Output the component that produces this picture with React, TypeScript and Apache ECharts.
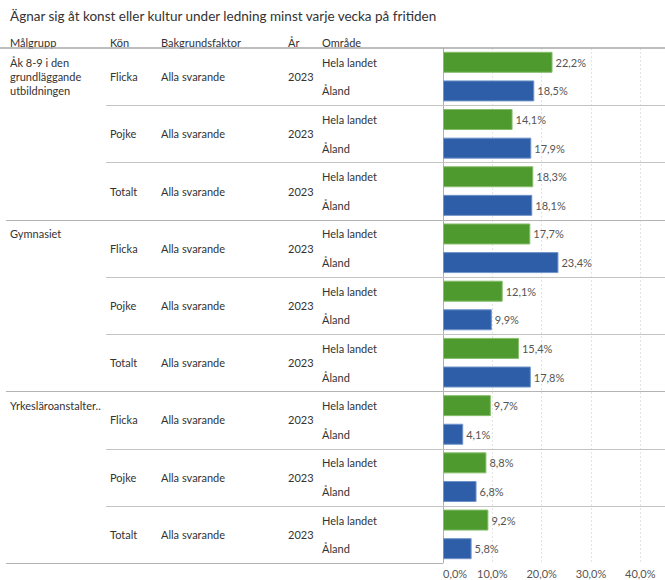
import React, { useEffect, useRef } from "react";
import * as echarts from "echarts";

const title = "Ägnar sig åt konst eller kultur under ledning minst varje vecka på fritiden";
const headers = ["Målgrupp", "Kön", "Bakgrundsfaktor", "År", "Område"];
const malgrupp = ["Åk 8-9 i den\ngrundläggande\nutbildningen", "Gymnasiet", "Yrkesläroanstalter.."];
const kon = ["Flicka", "Pojke", "Totalt"];
const bakgrund = "Alla svarande";
const ar = "2023";
const omraden = ["Hela landet", "Åland"];
// values per (målgrupp × kön), in order
const helaLandet = [22.2, 14.1, 18.3, 17.7, 12.1, 15.4, 9.7, 8.8, 9.2];
const aland = [18.5, 17.9, 18.1, 23.4, 9.9, 17.8, 4.1, 6.8, 5.8];
const xTicks = [0, 10, 20, 30, 40];

const W = 665;
const H = 580;
const GRID_LEFT = 443;
const GRID_TOP = 48;
const GRID_BOTTOM = 17;
const FONT = "Lato, 'Noto Sans', sans-serif";
const GREEN = "#4f9a2f";
const BLUE = "#2e5ea8";

function fmt(v: number) {
  return v.toFixed(1).replace(".", ",") + "%";
}

export default function App() {
  const ref = useRef<HTMLDivElement>(null);
  useEffect(() => {
    document.body.style.margin = "0";
    const chart = echarts.init(ref.current!, undefined, { renderer: "svg" });

    const nPairs = malgrupp.length * kon.length;
    const nRows = nPairs * omraden.length;
    const plotH = H - GRID_TOP - GRID_BOTTOM;
    const rowH = plotH / nRows;
    const pairH = rowH * omraden.length;
    const groupH = pairH * kon.length;

    const rowLabels: string[] = [];
    const malLabels: string[] = [];
    const barData: any[] = [];
    const pairKon: string[] = [];
    const pairBak: string[] = [];
    const pairAr: string[] = [];
    for (let g = 0; g < malgrupp.length; g++) {
      for (let k = 0; k < kon.length; k++) {
        const p = g * kon.length + k;
        pairKon.push(kon[k]);
        pairBak.push(bakgrund);
        pairAr.push(ar);
        const vals = [helaLandet[p], aland[p]];
        for (let o = 0; o < omraden.length; o++) {
          rowLabels.push(omraden[o]);
          if (k === 0 && o === 0) {
            const lines = malgrupp[g].split("\n").length;
            malLabels.push("\n".repeat(lines - 1) + malgrupp[g]);
          } else {
            malLabels.push("");
          }
          const c = o === 0 ? GREEN : BLUE;
          barData.push({
            value: vals[o],
            itemStyle: { color: c, borderColor: o === 0 ? "#86bd6b" : "#6f93c9", borderWidth: 1 },
          });
        }
      }
    }

    const labelStyle = { color: "#333", fontSize: 11, fontFamily: FONT };
    const catAxis = (data: string[], margin: number, extra: any = {}) => ({
      type: "category",
      inverse: true,
      data,
      position: "left",
      axisTick: { show: false },
      axisLine: { show: false },
      splitLine: { show: false },
      axisLabel: { ...labelStyle, align: "left", margin, interval: 0, lineHeight: 14 },
      ...extra,
    });

    const graphics: any[] = [];
    graphics.push({
      type: "text",
      left: 10,
      top: 9,
      style: { text: title, fill: "#333", font: `13.5px ${FONT}` },
    });
    const headerX = [10, 110, 161, 288, 322];
    headers.forEach((h, i) => {
      graphics.push({
        type: "text",
        x: headerX[i],
        y: 42,
        style: { text: h, fill: "#333", font: `11px ${FONT}`, textVerticalAlign: "middle" },
      });
    });
    const lineStyle = (c: string, w = 1) => ({ stroke: c, lineWidth: w });
    // header line
    graphics.push({
      type: "line",
      shape: { x1: 0, y1: GRID_TOP, x2: W, y2: GRID_TOP },
      style: lineStyle("#a9a9a9", 1.5),
      z: 10,
    });
    // pair separators
    for (let p = 1; p < nPairs; p++) {
      const y = Math.round(GRID_TOP + p * pairH) + 0.5;
      const isGroup = p % kon.length === 0;
      graphics.push({
        type: "line",
        shape: { x1: isGroup ? 6 : 106, y1: y, x2: W, y2: y },
        style: lineStyle(isGroup ? "#b4b4b4" : "#c4c4c4", 1),
        z: 10,
      });
    }
    // bottom line
    const yb = Math.round(GRID_TOP + malgrupp.length * groupH) + 0.5;
    graphics.push({
      type: "line",
      shape: { x1: 6, y1: yb, x2: GRID_LEFT, y2: yb },
      style: lineStyle("#b4b4b4", 1),
      z: 10,
    });

    chart.setOption({
      animation: false,
      backgroundColor: "#fff",
      textStyle: { fontFamily: FONT },
      grid: { left: GRID_LEFT, right: 0, top: GRID_TOP, bottom: GRID_BOTTOM, containLabel: false },
      xAxis: {
        type: "value",
        min: 0,
        max: 45,
        interval: 10,
        axisLine: { show: false },
        axisTick: { show: false },
        splitLine: { show: true, lineStyle: { color: "#e4e4e4", type: [2, 2], width: 1 } },
        axisLabel: {
          color: "#555",
          fontSize: 11,
          fontFamily: FONT,
          margin: 5,
          alignMinLabel: "left",
          showMaxLabel: false,
          formatter: (v: number) => (xTicks.includes(v) ? fmt(v) : ""),
        },
      },
      yAxis: [
        catAxis(rowLabels, GRID_LEFT - 322, {
          axisLine: { show: true, lineStyle: { color: "#b0b0b0", width: 1 } },
        }),
        catAxis(malLabels, GRID_LEFT - 10),
        catAxis(pairKon, GRID_LEFT - 110),
        catAxis(pairBak, GRID_LEFT - 161),
        catAxis(pairAr, GRID_LEFT - 288),
      ],
      series: [
        {
          type: "bar",
          yAxisIndex: 0,
          data: barData,
          barWidth: 21,
          label: {
            show: true,
            position: "right",
            distance: 3,
            color: "#555",
            fontSize: 11,
            fontFamily: FONT,
            formatter: (p: any) => fmt(p.value),
          },
        },
      ],
      graphic: graphics,
    });
    return () => chart.dispose();
  }, []);
  return <div ref={ref} style={{ width: W, height: H }} />;
}
